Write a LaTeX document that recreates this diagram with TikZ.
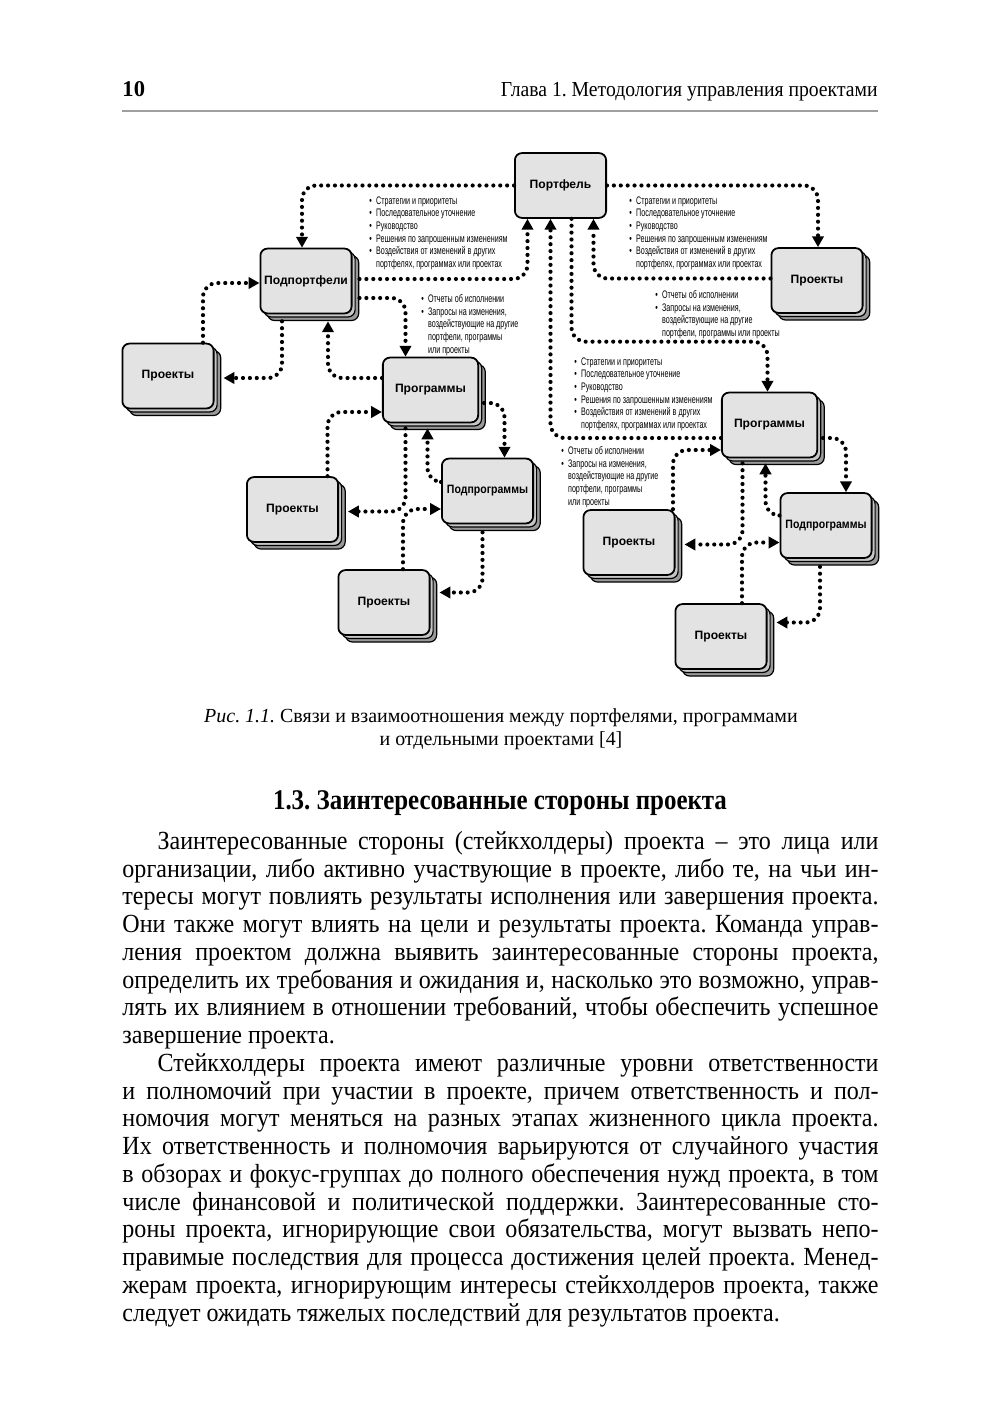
\documentclass[tikz,border=0pt]{standalone}
\usepackage{fontspec}
\setmainfont{Liberation Serif}
\newfontfamily\bodyserif[FakeStretch=0.92]{Liberation Serif}
\newfontfamily\headserif[FakeStretch=0.875]{Liberation Serif}
\newfontfamily\boxsans{Liberation Sans}
\newfontfamily\boxnarrow[FakeStretch=0.87]{Liberation Sans}
\newfontfamily\annsans[FakeStretch=0.655]{Liberation Sans}
\usetikzlibrary{arrows.meta,calc,shadows}
\definecolor{boxgray}{HTML}{E3E3E3}
\definecolor{stackmid}{HTML}{C6C6C6}
\definecolor{stackback}{HTML}{999999}
\newcommand{\itm}{\makebox[2.8pt][l]{\textbullet}}
\newcommand{\cnt}{\hspace*{2.8pt}}
\frenchspacing

\begin{document}
\begin{tikzpicture}[x=0.148mm, y=-0.148mm,
  box/.style={draw, line width=0.75pt, rounded corners=3pt, fill=boxgray,
    minimum width=13.5mm, minimum height=9.6mm, inner sep=0pt,
    font=\boxsans\bfseries\fontsize{5.1}{6}\selectfont},
  stackbox/.style={box,
    copy shadow={shadow xshift=1.05mm, shadow yshift=-1.05mm, fill=stackback, draw=black, line width=0.5pt},
    copy shadow={shadow xshift=0.52mm, shadow yshift=-0.52mm, fill=stackmid, draw=black, line width=0.5pt}},
  wide/.style={minimum width=14.1mm},
  subbox/.style={stackbox, font=\boxnarrow\bfseries\fontsize{5.1}{6}\selectfont},
  link/.style={line width=1.75pt, line cap=round, dash pattern=on 0pt off 2.9pt,
    rounded corners=6pt, -{Triangle[length=4.6pt, width=4.8pt]}},
  note/.style={anchor=north west, inner sep=0pt, align=left,
    font=\annsans\fontsize{4.6}{5.35}\selectfont}]
    \fill[white] (0,0) rectangle (1000,1419);
    \useasboundingbox (0,0) rectangle (1000,1419);

    % Колонтитул
    \node[anchor=base west, inner sep=0pt, font=\bfseries\fontsize{9.5}{11}\selectfont] (pgnum) at (122,97) {10};
    \node[anchor=base east, inner sep=0pt, font=\bodyserif\fontsize{9}{11}\selectfont] (runhead) at (878,97) {Глава 1. Методология управления проектами};
    \draw[gray!75, line width=0.85pt] (122,111) -- (878,111);

    % Блоки
    \node[box] (port) at (560.5,185.5) {Портфель};
    \node[stackbox] (podp) at (306,281) {Подпортфели};
    \node[stackbox, wide] (progL) at (430.5,390) {Программы};
    \node[stackbox, wide] (progR) at (769.5,425) {Программы};
    \node[subbox] (subL) at (487.5,491) {Подпрограммы};
    \node[subbox] (subR) at (826,525.5) {Подпрограммы};
    \foreach \n/\x/\y in {prjTR/817/280.5, prjL/168/376, prjLM/292.5/509.5,
        prjLB/384/602.5, prjRM/629/542.5, prjRB/721/636.5}
        \node[stackbox] (\n) at (\x,\y) {Проекты};

    % Связи от портфеля
    \draw[link] (port.west) -| ($(podp.north)+(-4,0)$);
    \draw[link] (port.east) -| ($(prjTR.north)+(1,0)$);
    \draw[link] ($(podp.east)+(7,-2)$) -| ($(port.south)+(-33,0)$);
    \draw[link] ($(prjTR.west)+(0,-2)$) -| ($(port.south)+(33,0)$);
    \draw[link] ($(port.south)+(11,0)$) |- ($(progR.north)+(-2,-50)$) -- ($(progR.north)+(-2,0)$);
    \draw[link] ($(progR.west)+(0,13)$) -| ($(port.south)+(-10,0)$);

    % Связи подпортфелей
    \draw[link] ($(podp.east)+(7,17)$) -| ($(progL.north)+(-25,0)$);
    \draw[link] ($(progL.west)+(0,-12)$) -| ($(podp.south)+(22,7)$);
    \draw[link] ($(podp.south)+(-24,7)$) |- ($(prjL.east)+(9,2)$);
    \draw[link] ($(prjL.north)+(35,0)$) |- ($(podp.west)+(0,2)$);

    % Левая программа
    \draw[link] ($(progL.east)+(5,13)$) -| ($(subL.north)+(17,0)$);
    \draw[link] ($(subL.west)+(0,-9)$) -| ($(progL.south)+(-3,5)$);
    \draw[link] ($(progL.south)+(-25,5)$) |- ($(prjLM.east)+(9,2)$);
    \draw[link] ($(prjLM.north)+(35,0)$) |- ($(progL.west)+(0,22)$);
    \draw[link] ($(subL.south)+(-5,8)$) |- ($(prjLB.east)+(9,-10)$);
    \draw[link] ($(prjLB.north)+(19,0)$) |- ($(subL.west)+(0,18)$);

    % Правая программа
    \draw[link] ($(progR.east)+(5,13)$) -| ($(subR.north)+(20,0)$);
    \draw[link] ($(subR.west)+(0,-10)$) -| ($(progR.south)+(-4,5)$);
    \draw[link] ($(progR.south)+(-27,5)$) |- ($(prjRM.east)+(9,2)$);
    \draw[link] ($(prjRM.north)+(44,0)$) |- ($(progR.west)+(0,25)$);
    \draw[link] ($(subR.south)+(-6,8)$) |- ($(prjRB.east)+(9,-14)$);
    \draw[link] ($(prjRB.north)+(21,0)$) |- ($(subR.west)+(0,17)$);

    % Подписи к связям
    \foreach \n/\x/\y in {noteA/369/196, noteB/629/196, noteE/574/357}
        \node[note] (\n) at (\x,\y) {\itm Стратегии и приоритеты\\ \itm Последовательное уточнение\\
            \itm Руководство\\ \itm Решения по запрошенным изменениям\\
            \itm Воздействия от изменений в других\\ \cnt портфелях, программах или проектах};
    \foreach \n/\x/\y in {noteC/421/294, noteF/561/446}
        \node[note] (\n) at (\x,\y) {\itm Отчеты об исполнении\\ \itm Запросы на изменения,\\
            \cnt воздействующие на другие\\ \cnt портфели, программы\\ \cnt или проекты};
    \node[note] (noteD) at (655,290) {\itm Отчеты об исполнении\\ \itm Запросы на изменения,\\
        \cnt воздействующие на другие\\ \cnt портфели, программы или проекты};

    % Подпись рисунка и заголовок
    \node[anchor=north, inner sep=0pt, align=center, font=\fontsize{8.4}{9.68}\selectfont] (caption) at (501,708)
        {\textit{Рис. 1.1.} Связи и взаимоотношения между портфелями, программами\\ и отдельными проектами [4]};
    \node[anchor=base, inner sep=0pt, font=\headserif\bfseries\fontsize{12}{14}\selectfont] (heading) at (500,809)
        {1.3. Заинтересованные стороны проекта};

    % Текст
    \node[anchor=north west, inner sep=0pt, text width=111.9mm, align=justify,
        font=\bodyserif\fontsize{11}{11.68}\selectfont] (body) at (122,829.6) {%
        \strut\noindent\hspace*{5.2mm}Заинтересованные стороны (стейкхолдеры) проекта – это лица или\linebreak
        организации, либо активно участвующие в проекте, либо те, на чьи ин-\linebreak
        тересы могут повлиять результаты исполнения или завершения проекта.\linebreak
        Они также могут влиять на цели и результаты проекта. Команда управ-\linebreak
        ления проектом должна выявить заинтересованные стороны проекта,\linebreak
        определить их требования и ожидания и, насколько это возможно, управ-\linebreak
        лять их влиянием в отношении требований, чтобы обеспечить успешное\linebreak
        завершение проекта.\par
        \noindent\hspace*{5.2mm}Стейкхолдеры проекта имеют различные уровни ответственности\linebreak
        и полномочий при участии в проекте, причем ответственность и пол-\linebreak
        номочия могут меняться на разных этапах жизненного цикла проекта.\linebreak
        Их ответственность и полномочия варьируются от случайного участия\linebreak
        в обзорах и фокус-группах до полного обеспечения нужд проекта, в том\linebreak
        числе финансовой и политической поддержки. Заинтересованные сто-\linebreak
        роны проекта, игнорирующие свои обязательства, могут вызвать непо-\linebreak
        правимые последствия для процесса достижения целей проекта. Менед-\linebreak
        жерам проекта, игнорирующим интересы стейкхолдеров проекта, также\linebreak
        следует ожидать тяжелых последствий для результатов проекта.};
\end{tikzpicture}
\end{document}
